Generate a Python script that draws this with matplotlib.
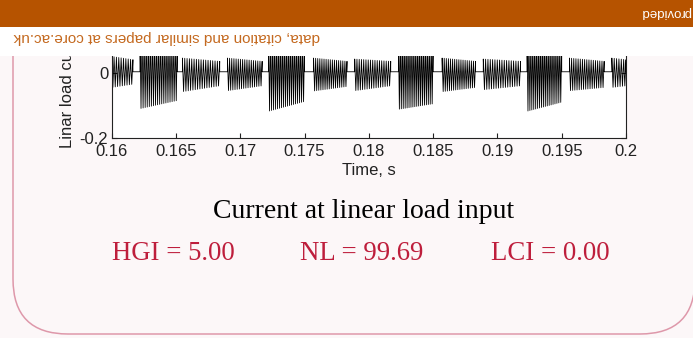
import numpy as np
import matplotlib
matplotlib.use("Agg")
import matplotlib.pyplot as plt
from matplotlib.patches import FancyBboxPatch, Rectangle
from matplotlib.transforms import IdentityTransform

# ---------------- data ----------------
# burst segments of the current waveform (time in s, current in A)
burst_start = [0.1600, 0.1622, 0.1655, 0.1690, 0.1722, 0.1757, 0.1789,
               0.1823, 0.1857, 0.1889, 0.1923, 0.1956, 0.1989]
burst_end   = [0.16165, 0.1651, 0.1684, 0.1717, 0.1750, 0.1783, 0.1817,
               0.1850, 0.1883, 0.1918, 0.1950, 0.1983, 0.2000]
top_start   = [0.050, 0.120, 0.045, 0.045, 0.120, 0.045, 0.042,
               0.120, 0.045, 0.042, 0.120, 0.045, 0.045]
top_end     = [0.040, 0.100, 0.035, 0.035, 0.100, 0.035, 0.035,
               0.100, 0.035, 0.035, 0.100, 0.035, 0.040]
bot_start   = [-0.045, -0.110, -0.058, -0.055, -0.118, -0.056, -0.055,
               -0.112, -0.058, -0.052, -0.118, -0.055, -0.045]
bot_end     = [-0.035, -0.085, -0.040, -0.040, -0.088, -0.042, -0.040,
               -0.095, -0.045, -0.040, -0.090, -0.045, -0.040]
burst_swings = [18, 36, 32, 32, 36, 32, 32, 36, 32, 32, 36, 32, 12]
flat_level = 0.003

x_ticks = [0.16, 0.165, 0.17, 0.175, 0.18, 0.185, 0.19, 0.195, 0.2]
x_ticklabels = ["0.16", "0.165", "0.17", "0.175", "0.18", "0.185", "0.19", "0.195", "0.2"]
y_ticks = [-0.2, 0.0, 0.2]
y_ticklabels = ["-0.2", "0", "0.2"]

caption = "Current at linear load input"
metric_labels = ["HGI = 5.00", "NL = 99.69", "LCI = 0.00"]

# ---------------- build the trace ----------------
t_pts, v_pts = [], []
for i in range(len(burst_start)):
    ts, te, n = burst_start[i], burst_end[i], burst_swings[i]
    tt = np.linspace(ts, te, n + 1)
    fr = (tt - ts) / (te - ts)
    top = top_start[i] + (top_end[i] - top_start[i]) * fr
    bot = bot_start[i] + (bot_end[i] - bot_start[i]) * fr
    vals = np.where(np.arange(n + 1) % 2 == 0, top, bot)
    if i > 0:
        t_pts.append(ts); v_pts.append(flat_level)
    t_pts.extend(tt); v_pts.extend(vals)
    t_pts.append(te); v_pts.append(flat_level)

# ---------------- figure ----------------
W, H = 693, 338
fig = plt.figure(figsize=(W / 100, H / 100), dpi=100)
bg = "#FCF7F8"
fig.patch.set_facecolor(bg)

# card with rounded bottom corners
card = FancyBboxPatch((13, 4), 682, 420,
                      boxstyle="round,pad=0,rounding_size=55",
                      transform=IdentityTransform(),
                      facecolor=bg, edgecolor="#DE98AA", linewidth=1.1,
                      zorder=-5)
fig.add_artist(card)

ax = fig.add_axes([111.7 / W, (H - 138) / H, (626 - 111.7) / W, 130.5 / H])
ax.set_facecolor("white")
ax.plot(t_pts, v_pts, color="black", linewidth=0.6)
ax.set_xlim(0.16, 0.2)
ax.set_ylim(-0.2, 0.2)

fam = ["Liberation Sans", "DejaVu Sans"]
tick_col = "#222222"
ax.set_xticks(x_ticks)
ax.set_xticklabels(x_ticklabels, fontfamily=fam, fontsize=12, color=tick_col)
ax.set_yticks(y_ticks)
ax.set_yticklabels(y_ticklabels, fontfamily=fam, fontsize=12, color=tick_col)
ax.tick_params(direction="in", length=3.8, width=0.8, color=tick_col,
               top=True, right=True)
ax.tick_params(axis="x", pad=4.5)
ax.tick_params(axis="y", pad=2.5)
for s in ax.spines.values():
    s.set_color(tick_col)
    s.set_linewidth(0.8)
ax.set_xlabel("Time, s", fontfamily=fam, fontsize=12, color=tick_col, labelpad=2.5)
ax.set_ylabel("Linar load current, A", fontfamily=fam, fontsize=12,
              color=tick_col, labelpad=3)

# captions
serif = ["Liberation Serif", "DejaVu Serif"]
fig.text(364 / W, 1 - 211 / H, caption, fontfamily=serif, fontsize=20,
         color="black", ha="center", va="center")
for xc, lab in zip([173, 362, 550], metric_labels):
    fig.text(xc / W, 1 - 253 / H, lab, fontfamily=serif, fontsize=19.3,
             color="#BE1E3C", ha="center", va="center")

# flipped CORE banner on top
fig.add_artist(Rectangle((0, (H - 56) / H), 1, 29 / H, transform=fig.transFigure,
                         facecolor="white", edgecolor="none", zorder=10))
fig.add_artist(Rectangle((0, (H - 27) / H), 1, 27 / H, transform=fig.transFigure,
                         facecolor="#B65300", edgecolor="none", zorder=11))
fig.text(320 / W, 1 - 37 / H, "data, citation and similar papers at core.ac.uk",
         rotation=180, ha="right", va="center", fontfamily=fam, fontsize=11,
         color="#C4691F", zorder=12)
fig.text(641 / W, 1 - 12 / H, "provided", rotation=180, ha="left", va="center",
         fontfamily=fam, fontsize=9.5, color="white", zorder=12)

fig.savefig("out.png", dpi=100, facecolor=fig.get_facecolor())
